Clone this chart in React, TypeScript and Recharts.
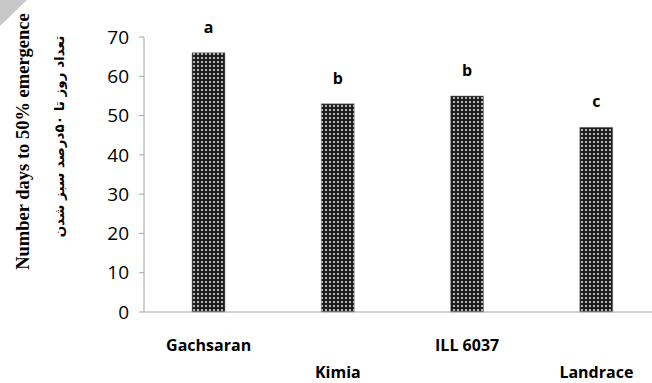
import { BarChart, Bar, XAxis, YAxis, LabelList } from "recharts";

const categories = ["Gachsaran", "Kimia", "ILL 6037", "Landrace"];
const days = [66, 53, 55, 47];
const letters = ["a", "b", "b", "c"];
const yTicks = [0, 10, 20, 30, 40, 50, 60, 70];

const titleEn = "Number days to 50% emergence";
const titleFa = "تعداد روز تا ۵۰درصد سبز شدن";

const data = categories.map((name, i) => ({
  name,
  days: days[i],
  letter: letters[i],
}));

const AXIS_GREY = "#a6a6a6";

function StaggeredTick(props: any) {
  const { x, y, payload, index } = props;
  const dy = index % 2 === 1 ? 64 : 37;
  return (
    <text
      x={x}
      y={y + dy}
      textAnchor="middle"
      fontFamily="'Open Sans', sans-serif"
      fontWeight="bold"
      fontSize={16}
      fill="#000"
    >
      {payload.value}
    </text>
  );
}

function AxisTitle(props: any) {
  const vb = props.viewBox || {};
  const cy = (vb.y ?? 0) + (vb.height ?? 0) / 2;
  return (
    <g>
      <text
        transform={`translate(29, ${cy - 33}) rotate(-90)`}
        textAnchor="middle"
        fontFamily="'Liberation Serif', 'Times New Roman', serif"
        fontWeight="bold"
        fontSize={18.5}
        fill="#000"
      >
        {titleEn}
      </text>
      <text
        transform={`translate(64, ${cy - 38}) rotate(-90)`}
        textAnchor="middle"
        direction="rtl"
        fontFamily="'DejaVu Sans', sans-serif"
        fontWeight="bold"
        fontSize={13.5}
        fill="#000"
      >
        {titleFa}
      </text>
    </g>
  );
}

export default function App() {
  return (
    <div
      style={{
        position: "fixed",
        top: 0,
        left: 0,
        width: 652,
        height: 383,
        overflow: "hidden",
        background: "#fff",
      }}
    >
      <svg width="0" height="0" style={{ position: "absolute" }} aria-hidden="true">
        <defs>
          <pattern id="dots" width="4" height="4" patternUnits="userSpaceOnUse">
            <rect width="4" height="4" fill="#1e1e1e" />
            <rect x="1" y="1" width="2" height="2" fill="#b4b4b4" />
          </pattern>
        </defs>
      </svg>
      <svg
        width="28"
        height="28"
        style={{ position: "absolute", top: 0, left: 0, zIndex: 2 }}
        aria-hidden="true"
      >
        <polygon points="0,0 27,0 0,26" fill="#c8c8c8" />
      </svg>
      <BarChart
        width={661}
        height={383}
        data={data}
        margin={{ top: 37, right: 0, bottom: 0, left: 0 }}
        barCategoryGap={0}
      >
        <XAxis
          dataKey="name"
          interval={0}
          height={71}
          tickSize={0}
          axisLine={{ stroke: AXIS_GREY }}
          tick={<StaggeredTick />}
        />
        <YAxis
          width={144}
          domain={[0, 70]}
          ticks={yTicks}
          interval={0}
          tickSize={5}
          tickMargin={10}
          axisLine={{ stroke: AXIS_GREY }}
          tickLine={{ stroke: AXIS_GREY }}
          tick={{
            fill: "#000",
            fontSize: 19,
            fontFamily: "'Open Sans', sans-serif",
          }}
          label={<AxisTitle />}
        />
        <Bar
          dataKey="days"
          barSize={33}
          fill="url(#dots)"
          stroke="#888"
          strokeWidth={0.5}
          isAnimationActive={false}
        >
          <LabelList
            dataKey="letter"
            position="top"
            offset={20}
            fill="#000"
            fontSize={16}
            fontWeight="bold"
            fontFamily="'Open Sans', sans-serif"
          />
        </Bar>
      </BarChart>
    </div>
  );
}
